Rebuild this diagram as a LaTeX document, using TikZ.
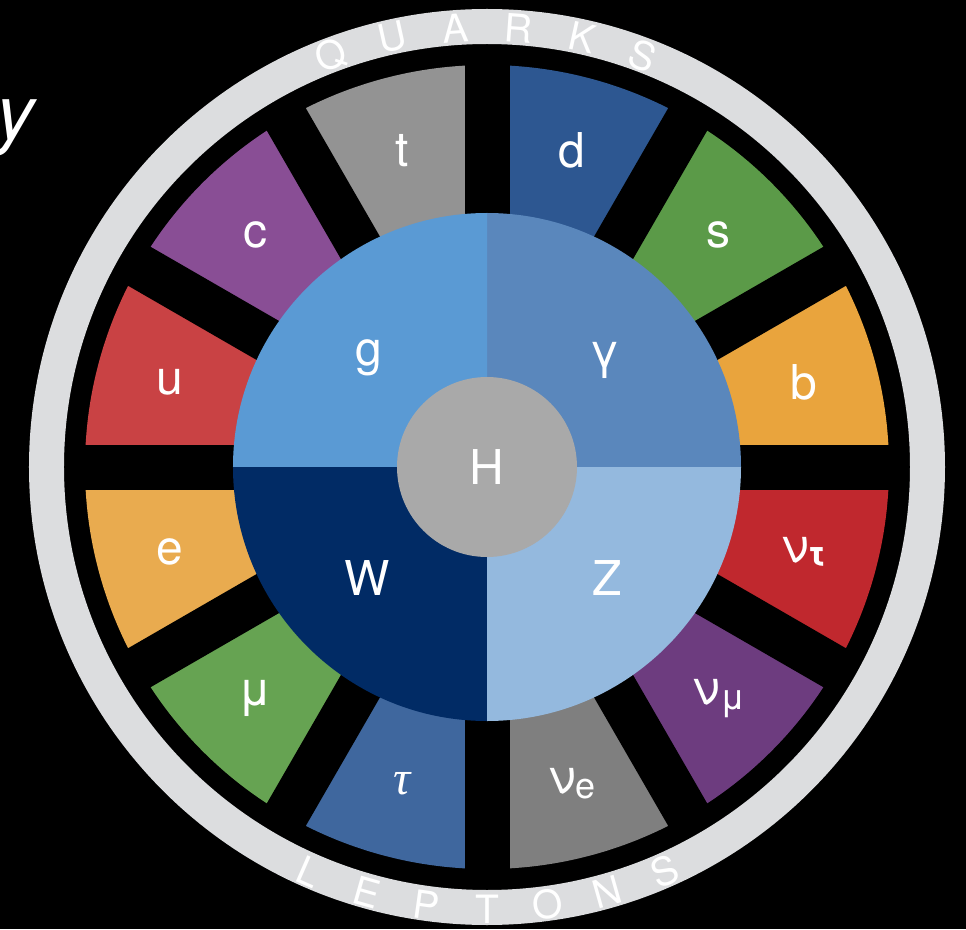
\documentclass[tikz,border=0pt]{standalone}
\usepackage{fontspec}
\setsansfont{TeX Gyre Heros}
\newfontfamily\taufont{Liberation Serif}
\definecolor{cring}{HTML}{DCDDDF}
\definecolor{ct}{HTML}{939393}
\definecolor{cd}{HTML}{2D5791}
\definecolor{cs}{HTML}{5B9A48}
\definecolor{cb}{HTML}{E9A43D}
\definecolor{cvt}{HTML}{C0282E}
\definecolor{cvm}{HTML}{6D3C7F}
\definecolor{cve}{HTML}{7F7F7F}
\definecolor{ctau}{HTML}{3F679E}
\definecolor{cmu}{HTML}{66A352}
\definecolor{ce}{HTML}{E9AB4F}
\definecolor{cu}{HTML}{C94244}
\definecolor{cc}{HTML}{894E95}
\definecolor{cg}{HTML}{5A9AD4}
\definecolor{cgam}{HTML}{5A87BC}
\definecolor{cw}{HTML}{012B65}
\definecolor{cz}{HTML}{94B9DE}
\definecolor{ch}{HTML}{A9A9A9}
\newcommand{\lowsub}[1]{\raisebox{-0.1em}{\fontsize{36}{36}\selectfont #1}}
\tikzset{
  every picture/.style={font=\sffamily},
  lbl/.style={text=white, font=\sffamily\fontsize{48}{50}\selectfont, inner sep=0pt},
  ringlbl/.style={text=white, font=\sffamily\fontsize{39}{40}\selectfont, inner sep=0pt},
  gap/.style={draw=black, line width=45pt},
}
\begin{document}
\begin{tikzpicture}[x=1pt, y=1pt]
  \fill[black] (-487,-462) rectangle (479,467);
  \useasboundingbox (-487,-462) rectangle (479,467);
  % outer ring with its two words
  \fill[cring, even odd rule] (0,0) circle (458) (0,0) circle (423);
  \foreach \l [count=\i from 0] in {Q,U,A,R,K,S}
    {\pgfmathsetmacro\a{110.75-8.3*\i}
     \node[ringlbl, rotate=\a-90] (q\i) at (\a:440) {\l};}
  \foreach \l [count=\i from 0] in {L,E,P,T,O,N,S}
    {\pgfmathsetmacro\a{246.3+7.9*\i}
     \node[ringlbl, rotate=\a+90] (l\i) at (\a:442) {\l};}
  % twelve fermion sectors, from 0 deg counter-clockwise
  \foreach \c/\t [count=\i from 0] in {cb/b, cs/s, cd/d, ct/t, cc/c, cu/u, ce/e, cmu/μ, ctau/{\taufont\itshape τ}, cve/{ν\lowsub{e}}, cvm/{ν\lowsub{μ}}, cvt/{ν\lowsub{\bfseries τ}}}
    {\fill[\c] (0,0) -- (\i*30:402) arc[start angle=\i*30, end angle=\i*30+30, radius=402] -- cycle;
     \node[lbl] (f\i) at (\i*30+15:328) {\t};}
  \foreach \a in {0,30,...,150}
    \draw[gap] (\a:410) -- (\a+180:410);
  % bosons
  \fill[cgam] (0,0) -- (0:254) arc[start angle=0, end angle=90, radius=254] -- cycle;
  \fill[cg] (0,0) -- (90:254) arc[start angle=90, end angle=180, radius=254] -- cycle;
  \fill[cw] (0,0) -- (180:254) arc[start angle=180, end angle=270, radius=254] -- cycle;
  \fill[cz] (0,0) -- (270:254) arc[start angle=270, end angle=360, radius=254] -- cycle;
  \node[lbl] (g) at (-118,109) {g};
  \node[lbl] (gam) at (118,107) {γ};
  \node[lbl] (w) at (-120,-111) {W};
  \node[lbl] (z) at (120,-111) {Z};
  \node[circle, fill=ch, minimum size=180pt, inner sep=0pt] (hc) at (0,0) {};
  \node[lbl] (h) at (hc) {H};
  % end of a cut-off word
  \node[text=white, font=\sffamily\itshape\fontsize{76}{80}\selectfont, anchor=base east, inner sep=0pt] (word) at (-452,327) {y};
\end{tikzpicture}
\end{document}
